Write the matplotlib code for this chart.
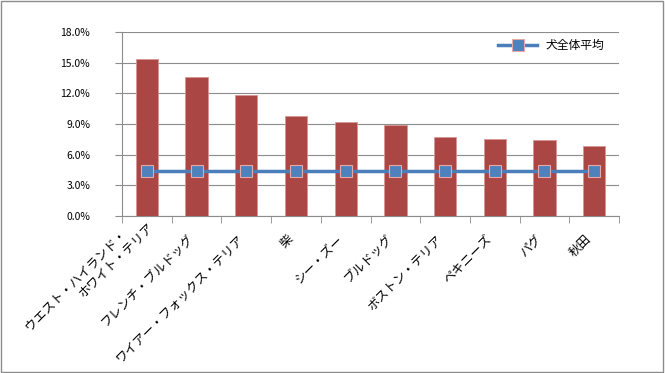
import numpy as np
import matplotlib.pyplot as plt
from matplotlib.ticker import FuncFormatter
from matplotlib.transforms import ScaledTranslation

plt.rcParams['font.family'] = ['Noto Sans CJK JP', 'DejaVu Sans']

# data
breeds = ["ウエスト・ハイランド・\u3000\u3000\nホワイト・テリア", "フレンチ・ブルドッグ", "ワイアー・フォックス・テリア",
          "柴", "シー・ズー", "ブルドッグ", "ボストン・テリア", "ペキニーズ", "パグ", "秋田"]
rates = [15.35, 13.6, 11.85, 9.8, 9.2, 8.9, 7.7, 7.5, 7.4, 6.85]
avg = [4.4] * 10
yticks = [0, 3, 6, 9, 12, 15, 18]

fig = plt.figure(figsize=(6.65, 3.73), dpi=100)
ax = fig.add_axes([0.1835, 0.421, 0.7474, 0.493])
x = np.arange(len(breeds))

ax.bar(x, rates, width=0.45, color="#AA4643", edgecolor="#D99694", linewidth=0.6, zorder=2)
ax.plot(x, avg, color="#4A7EBB", linewidth=2.5, marker="s", markersize=9,
        markerfacecolor="#4F81BD", markeredgecolor="#E6A9A8", markeredgewidth=0.8,
        label="犬全体平均", zorder=3)

ax.set_xlim(-0.5, len(breeds) - 0.5)
ax.set_ylim(0, 18)
ax.set_yticks(yticks)
ax.yaxis.set_major_formatter(FuncFormatter(lambda v, p: "%.1f%%" % v))
ax.grid(axis="y", color="#8C8C8C", linewidth=0.8, zorder=0)
ax.set_axisbelow(True)

ax.set_xticks(x)
ax.set_xticklabels(breeds, rotation=45, ha="right", va="center", rotation_mode="anchor",
                   fontsize=9, linespacing=1.05, multialignment="right")
ax.set_xticks(np.arange(-0.5, len(breeds)), minor=True)
ax.tick_params(axis="x", which="major", length=0, pad=15)
ax.tick_params(axis="x", which="minor", length=5, color="#8C8C8C")
ax.tick_params(axis="y", length=5, color="#8C8C8C", labelsize=7.5, pad=18)

# nudge labels like the original (pixels)
for i, lab in enumerate(ax.get_xticklabels()):
    dx, dy = -5, 0
    if i == 0:
        dx, dy = 0, 17
    lab.set_transform(lab.get_transform() + ScaledTranslation(dx / 100, dy / 100, fig.dpi_scale_trans))

for s in ["top", "right"]:
    ax.spines[s].set_visible(False)
for s in ["left", "bottom"]:
    ax.spines[s].set_color("#8C8C8C")

fig.legend(loc="center left", bbox_to_anchor=(0.749, 0.877), frameon=False, fontsize=8.5,
           handlelength=3.3, handletextpad=0.7, borderpad=0, borderaxespad=0)

fig.patches.append(plt.Rectangle((0.002, 0.003), 0.995, 0.994, transform=fig.transFigure,
                                 fill=False, edgecolor="#8C8C8C", linewidth=1))

fig.savefig("out.png", dpi=100)
